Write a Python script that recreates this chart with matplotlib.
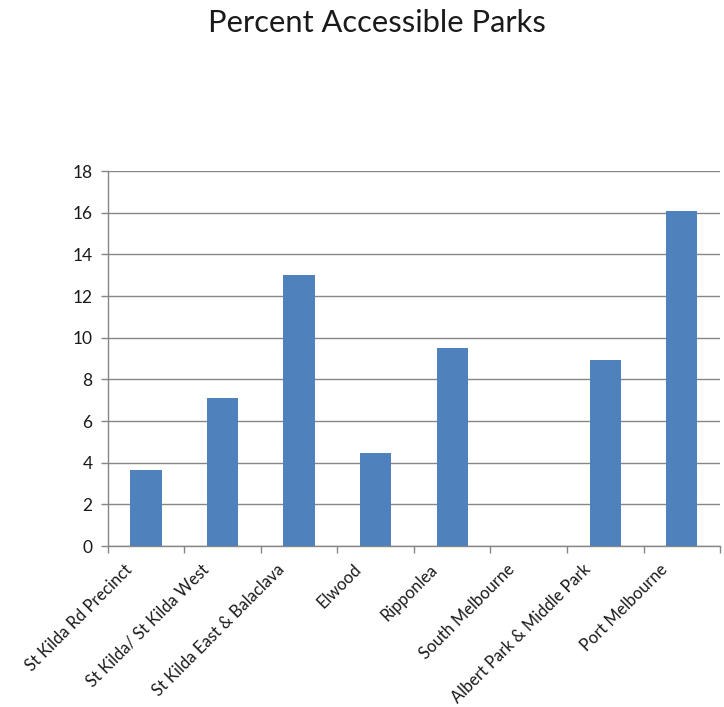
"""Percent accessible parks by neighbourhood."""

import matplotlib

matplotlib.use("Agg")
import matplotlib.pyplot as plt
import numpy as np

areas = [
    "St Kilda Rd Precinct",
    "St Kilda/ St Kilda West",
    "St Kilda East & Balaclava",
    "Elwood",
    "Ripponlea",
    "South Melbourne",
    "Albert Park & Middle Park",
    "Port Melbourne",
]
percent_accessible = [3.65, 7.1, 13.0, 4.45, 9.5, 0.0, 8.93, 16.08]
y_ticks = [0, 2, 4, 6, 8, 10, 12, 14, 16, 18]

plt.rcParams["font.family"] = ["Lato", "DejaVu Sans"]
grey = "#868686"

fig = plt.figure(figsize=(7.24, 7.07), dpi=100)
ax = fig.add_axes([0.149, 0.2277, 0.8455, 0.5303])

x = np.arange(len(areas))
ax.bar(x, percent_accessible, width=0.41, color="#4F81BD", zorder=3)

ax.set_xlim(-0.5, len(areas) - 0.5)
ax.set_ylim(0, 18)
ax.set_yticks(y_ticks)
ax.yaxis.grid(True, color=grey, linewidth=1.0, zorder=0)

# category ticks sit between bars; rotated labels end a little left of centre
ax.set_xticks(np.arange(len(areas) + 1) - 0.5)
ax.set_xticklabels([])
ax.set_xticks(x - 0.22, minor=True)
ax.set_xticklabels(areas, minor=True, rotation=45, ha="right", va="center",
                   rotation_mode="anchor", fontsize=11.9, color="#1a1a1a")
ax.tick_params(axis="x", which="minor", length=0, pad=15)
ax.tick_params(axis="x", which="major", length=5, color=grey, width=1)
ax.tick_params(axis="y", length=5, color=grey, width=1, labelsize=12.5,
               labelcolor="#1a1a1a", pad=6)

for side in ("top", "right"):
    ax.spines[side].set_visible(False)
for side in ("left", "bottom"):
    ax.spines[side].set_color(grey)
    ax.spines[side].set_linewidth(1.0)

fig.text(0.52, 0.968, "Percent Accessible Parks", ha="center", va="center",
         fontsize=22.2, color="#1a1a1a")

fig.savefig("out.png", dpi=100)
